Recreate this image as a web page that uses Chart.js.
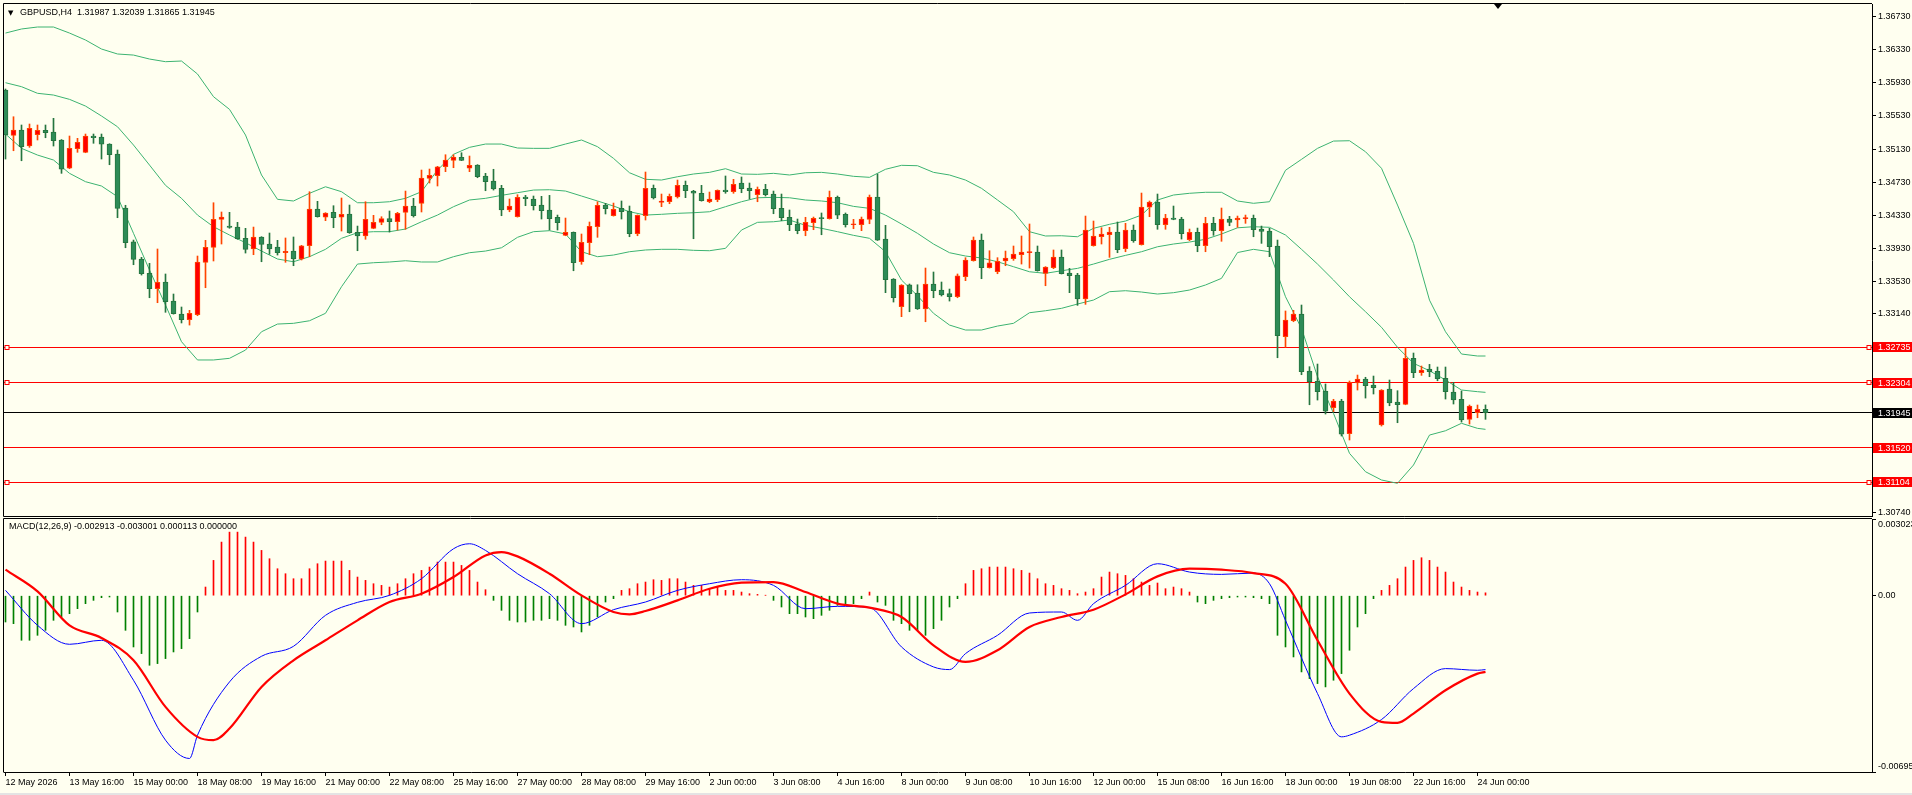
<!DOCTYPE html>
<html><head><meta charset="utf-8">
<script src="https://cdn.jsdelivr.net/npm/chart.js@4.4.1/dist/chart.umd.min.js"></script>
<style>
html,body{margin:0;padding:0;background:#fffff0;width:1912px;height:795px;overflow:hidden;}
#wrap{position:relative;width:1912px;height:795px;background:#fffff0;}
#c1{position:absolute;left:0;top:0;}
#c2{position:absolute;left:0;top:518px;}
#strip{position:absolute;left:0;top:793px;width:1912px;height:2px;background:#e4e4e4;}
</style></head><body>
<div id="wrap"><canvas id="c1" width="1912" height="518"></canvas><canvas id="c2" width="1912" height="275"></canvas><div id="strip"></div></div>
<script>
// ---------- data ----------
const barOpen = [1.35844,1.35296,1.35360,1.35167,1.35304,1.35357,1.35336,1.35240,1.34898,1.35134,
1.35091,1.35288,1.35276,1.35191,1.35070,1.34418,1.34011,1.33802,1.33629,1.33443,
1.33524,1.33294,1.33137,1.33068,1.33129,1.33762,1.33943,1.34281,1.34200,1.34188,
1.34052,1.33923,1.34068,1.33983,1.33947,1.33878,1.33898,1.33802,1.33962,1.34406,
1.34306,1.34366,1.34306,1.34346,1.34124,1.34080,1.34173,1.34245,1.34289,1.34252,
1.34366,1.34442,1.34475,1.34777,1.34808,1.34917,1.34994,1.35030,1.34898,1.34938,
1.34805,1.34744,1.34656,1.34394,1.34313,1.34551,1.34527,1.34454,1.34394,1.34306,
1.34088,1.34124,1.33769,1.33999,1.34192,1.34454,1.34325,1.34414,1.34378,1.34107,
1.34325,1.34656,1.34487,1.34494,1.34551,1.34692,1.34623,1.34596,1.34494,1.34518,
1.34635,1.34615,1.34720,1.34660,1.34579,1.34644,1.34587,1.34414,1.34306,1.34225,
1.34144,1.34240,1.34297,1.34289,1.34547,1.34342,1.34216,1.34216,1.34281,1.34551,
1.34043,1.33560,1.33226,1.33491,1.33391,1.33198,1.33500,1.33427,1.33383,1.33346,
1.33588,1.33781,1.34031,1.33697,1.33648,1.33778,1.33805,1.33854,1.33880,1.33886,
1.33629,1.33697,1.33826,1.33633,1.33608,1.33319,1.33962,1.34071,1.34095,1.34128,
1.33926,1.34152,1.33975,1.34427,1.34490,1.34216,1.34297,1.34285,1.34035,1.34124,
1.33962,1.34233,1.34144,1.34285,1.34273,1.34289,1.34294,1.34164,1.34140,1.33959,
1.32863,1.33056,1.33137,1.32449,1.32324,1.32207,1.32005,1.32086,1.31691,1.32304,
1.32352,1.32279,1.31796,1.32231,1.32074,1.32046,1.32602,1.32428,1.32473,1.32445,
1.32360,1.32195,1.32107,1.31865,1.31945,1.31987];
const barHigh = [1.35856,1.35521,1.35421,1.35433,1.35421,1.35421,1.35502,1.35245,1.35288,1.35260,
1.35312,1.35312,1.35312,1.35195,1.35119,1.34451,1.34031,1.33822,1.33750,1.33923,
1.33621,1.33379,1.33222,1.33182,1.33838,1.34028,1.34482,1.34370,1.34366,1.34245,
1.34173,1.34188,1.34072,1.34116,1.34028,1.34056,1.34068,1.33967,1.34615,1.34499,
1.34362,1.34446,1.34539,1.34454,1.34200,1.34494,1.34330,1.34313,1.34382,1.34366,
1.34623,1.34535,1.34877,1.34889,1.34922,1.35062,1.35062,1.35086,1.35046,1.34942,
1.34837,1.34886,1.34692,1.34527,1.34579,1.34571,1.34563,1.34559,1.34571,1.34333,
1.34297,1.34129,1.34104,1.34249,1.34494,1.34475,1.34478,1.34503,1.34442,1.34335,
1.34853,1.34696,1.34587,1.34587,1.34756,1.34744,1.34632,1.34692,1.34611,1.34637,
1.34805,1.34765,1.34793,1.34720,1.34672,1.34704,1.34623,1.34587,1.34394,1.34285,
1.34306,1.34309,1.34358,1.34623,1.34563,1.34358,1.34281,1.34309,1.34575,1.34829,
1.34209,1.33565,1.33493,1.33500,1.33491,1.33693,1.33645,1.33524,1.33439,1.33621,
1.33818,1.34068,1.34104,1.33902,1.33818,1.33898,1.33959,1.34080,1.34225,1.33959,
1.33710,1.33911,1.33911,1.33689,1.33629,1.34321,1.34261,1.34180,1.34185,1.34249,
1.34233,1.34213,1.34599,1.34503,1.34587,1.34342,1.34442,1.34306,1.34164,1.34176,
1.34306,1.34306,1.34418,1.34318,1.34321,1.34333,1.34333,1.34200,1.34173,1.34031,
1.33174,1.33182,1.33246,1.32501,1.32533,1.32292,1.32107,1.32107,1.32328,1.32400,
1.32373,1.32388,1.32224,1.32340,1.32211,1.32730,1.32666,1.32509,1.32529,1.32497,
1.32497,1.32312,1.32207,1.32038,1.32038,1.32039];
const barLow = [1.35010,1.35110,1.34989,1.35151,1.35240,1.35267,1.35167,1.34837,1.34893,1.35091,
1.35086,1.35200,1.35010,1.34941,1.34301,1.33938,1.33733,1.33608,1.33334,1.33274,
1.33158,1.33136,1.33029,1.33004,1.33117,1.33455,1.33778,1.33983,1.34173,1.34040,
1.33874,1.33854,1.33769,1.33859,1.33850,1.33762,1.33721,1.33790,1.33830,1.34308,
1.34265,1.34180,1.34140,1.34112,1.33902,1.34040,1.34168,1.34216,1.34128,1.34152,
1.34161,1.34309,1.34370,1.34720,1.34684,1.34857,1.34905,1.34990,1.34857,1.34784,
1.34627,1.34635,1.34325,1.34373,1.34308,1.34446,1.34394,1.34285,1.34152,1.34152,
1.34083,1.33660,1.33738,1.33854,1.34064,1.34346,1.34320,1.34285,1.34071,1.34083,
1.34273,1.34527,1.34434,1.34470,1.34539,1.34543,1.34047,1.34501,1.34482,1.34494,
1.34596,1.34596,1.34603,1.34527,1.34494,1.34563,1.34349,1.34265,1.34144,1.34107,
1.34083,1.34156,1.34095,1.34284,1.34289,1.34188,1.34168,1.34144,1.34228,1.34026,
1.33395,1.33282,1.33105,1.33165,1.33193,1.33044,1.33334,1.33355,1.33294,1.33334,
1.33540,1.33776,1.33564,1.33692,1.33624,1.33721,1.33786,1.33741,1.33693,1.33655,
1.33479,1.33685,1.33621,1.33395,1.33242,1.33254,1.33957,1.33983,1.33822,1.33878,
1.33890,1.34004,1.33970,1.34313,1.34161,1.34161,1.34276,1.34043,1.34023,1.33890,
1.33890,1.34088,1.34016,1.34204,1.34185,1.34233,1.34071,1.33991,1.33830,1.32609,
1.32735,1.33044,1.32404,1.32041,1.32098,1.31929,1.31957,1.31663,1.31615,1.32219,
1.32122,1.32171,1.31784,1.32029,1.31824,1.32041,1.32368,1.32396,1.32380,1.32331,
1.32110,1.32050,1.31832,1.31808,1.31884,1.31865];
const barClose = [1.35300,1.35360,1.35159,1.35381,1.35357,1.35328,1.35231,1.34886,1.35139,1.35212,
1.35288,1.35267,1.35188,1.35062,1.34414,1.33999,1.33798,1.33624,1.33443,1.33520,
1.33286,1.33141,1.33068,1.33146,1.33766,1.33943,1.34281,1.34309,1.34185,1.34047,
1.33919,1.34068,1.33979,1.33923,1.33878,1.33895,1.33802,1.33962,1.34406,1.34313,
1.34358,1.34301,1.34342,1.34120,1.34080,1.34281,1.34245,1.34289,1.34252,1.34354,
1.34442,1.34325,1.34780,1.34813,1.34917,1.34998,1.35034,1.34994,1.34934,1.34796,
1.34736,1.34648,1.34394,1.34442,1.34547,1.34530,1.34446,1.34385,1.34289,1.34240,
1.34124,1.33757,1.34004,1.34197,1.34451,1.34410,1.34402,1.34373,1.34107,1.34330,
1.34656,1.34539,1.34503,1.34559,1.34692,1.34627,1.34596,1.34506,1.34527,1.34632,
1.34615,1.34704,1.34651,1.34627,1.34644,1.34579,1.34410,1.34301,1.34216,1.34144,
1.34245,1.34294,1.34289,1.34547,1.34333,1.34216,1.34225,1.34285,1.34551,1.34031,
1.33552,1.33334,1.33488,1.33383,1.33198,1.33500,1.33419,1.33367,1.33346,1.33600,
1.33790,1.34031,1.33697,1.33757,1.33774,1.33814,1.33862,1.33886,1.33886,1.33660,
1.33705,1.33826,1.33624,1.33600,1.33319,1.34152,1.34080,1.34104,1.34128,1.33914,
1.34152,1.34023,1.34430,1.34490,1.34216,1.34297,1.34281,1.34107,1.34124,1.33962,
1.34233,1.34144,1.34285,1.34245,1.34297,1.34297,1.34156,1.34136,1.33950,1.32875,
1.33065,1.33137,1.32440,1.32319,1.32199,1.31965,1.32086,1.31687,1.32312,1.32352,
1.32271,1.32247,1.32219,1.32062,1.32041,1.32602,1.32428,1.32461,1.32440,1.32356,
1.32199,1.32098,1.31857,1.32026,1.31986,1.31945];

const bandBars = [0,2,4,6,8,10,12,14,16,18,20,22,24,26,28,30,32,34,36,38,40,42,44,46,48,50,52,54,56,58,
60,62,64,66,68,70,72,74,76,78,80,82,84,86,88,90,92,94,96,98,100,102,104,106,108,110,112,114,116,118,
120,122,124,126,128,130,132,134,136,138,140,142,144,146,148,150,152,154,156,158,160,162,164,166,168,170,
172,174,176,178,180,182,184,185];
const bandUpper = [1.36532,1.36581,1.36605,1.36605,1.36532,1.36448,1.36339,1.36279,1.36266,1.36218,
1.36186,1.36194,1.36037,1.35763,1.35610,1.35300,1.34817,1.34523,1.34503,1.34596,
1.34675,1.34615,1.34482,1.34482,1.34494,1.34535,1.34615,1.34877,1.35067,1.35151,
1.35191,1.35191,1.35143,1.35139,1.35139,1.35191,1.35240,1.35159,1.35018,1.34844,
1.34765,1.34756,1.34796,1.34829,1.34849,1.34893,1.34829,1.34825,1.34837,1.34817,
1.34844,1.34849,1.34829,1.34801,1.34789,1.34886,1.34934,1.34929,1.34849,1.34817,
1.34756,1.34656,1.34515,1.34373,1.34132,1.34080,1.34083,1.34071,1.34173,1.34221,
1.34261,1.34333,1.34515,1.34575,1.34596,1.34608,1.34608,1.34503,1.34475,1.34494,
1.34874,1.35006,1.35139,1.35227,1.35231,1.35098,1.34898,1.34454,1.33991,1.33305,
1.32923,1.32654,1.32630,1.32630];
const bandMiddle = [1.35932,1.35884,1.35804,1.35783,1.35731,1.35650,1.35530,1.35400,1.35179,1.34937,
1.34692,1.34535,1.34333,1.34192,1.34092,1.33999,1.33898,1.33802,1.33769,1.33830,
1.33919,1.34052,1.34120,1.34132,1.34132,1.34164,1.34252,1.34333,1.34434,1.34515,
1.34535,1.34571,1.34603,1.34635,1.34639,1.34623,1.34563,1.34503,1.34442,1.34373,
1.34333,1.34342,1.34354,1.34361,1.34373,1.34434,1.34494,1.34542,1.34547,1.34542,
1.34515,1.34503,1.34482,1.34438,1.34414,1.34333,1.34225,1.34112,1.33983,1.33878,
1.33838,1.33814,1.33769,1.33709,1.33648,1.33629,1.33660,1.33689,1.33741,1.33798,
1.33846,1.33890,1.33950,1.33983,1.34007,1.34040,1.34104,1.34179,1.34192,1.34185,
1.34092,1.33919,1.33741,1.33548,1.33346,1.33165,1.32977,1.32735,1.32542,1.32452,
1.32340,1.32219,1.32199,1.32191];
const bandLower = [1.35312,1.35139,1.35058,1.34998,1.34837,1.34736,1.34684,1.34555,1.34112,1.33669,
1.33246,1.32803,1.32582,1.32582,1.32602,1.32702,1.32923,1.33016,1.33025,1.33056,
1.33146,1.33467,1.33741,1.33757,1.33766,1.33781,1.33766,1.33766,1.33830,1.33878,
1.33898,1.33938,1.34064,1.34132,1.34144,1.34104,1.33890,1.33830,1.33850,1.33890,
1.33911,1.33919,1.33919,1.33907,1.33902,1.33931,1.34152,1.34245,1.34252,1.34273,
1.34209,1.34173,1.34132,1.34088,1.34052,1.33890,1.33548,1.33358,1.33146,1.33004,
1.32944,1.32944,1.32992,1.33025,1.33153,1.33177,1.33206,1.33258,1.33306,1.33407,
1.33419,1.33403,1.33379,1.33395,1.33427,1.33488,1.33568,1.33880,1.33919,1.33890,
1.33346,1.32964,1.32380,1.31937,1.31454,1.31232,1.31132,1.31092,1.31313,1.31675,
1.31727,1.31817,1.31756,1.31744];

const macdMainBars = [0,4,8,12,16,20,23,24,28,32,36,40,44,48,52,56,58,60,64,68,72,76,80,84,88,92,96,100,104,108,
112,116,118,120,124,128,132,134,136,140,144,148,152,156,158,160,164,167,168,172,176,180,184,185];
const macdMain = [0.000210,-0.001168,-0.001916,-0.001758,-0.003333,-0.005695,-0.006417,-0.005499,-0.003399,-0.002388,
-0.001995,-0.000774,-0.000262,0.000013,0.000669,0.001850,0.002047,0.001785,0.000866,0.000079,
-0.001102,-0.000551,-0.000249,0.000210,0.000472,0.000630,0.000407,-0.000512,-0.000420,-0.000472,
-0.002021,-0.002808,-0.002913,-0.002283,-0.001562,-0.000682,-0.000643,-0.000971,-0.000315,0.000407,
0.001260,0.000932,0.000840,0.000892,0.000472,-0.000971,-0.003858,-0.005564,-0.005499,-0.004882,
-0.003661,-0.002874,-0.002940,-0.002913];
const macdSignalBars = [0,4,8,12,16,20,24,26,28,32,36,40,44,48,52,56,60,62,64,68,72,76,78,80,84,88,92,96,100,104,
108,112,116,120,124,128,132,136,140,144,148,152,156,160,164,168,172,174,176,180,184,185];
const macdSignal = [0.001024,0.000171,-0.001168,-0.001667,-0.002546,-0.004383,-0.005564,-0.005695,-0.005236,-0.003596,
-0.002546,-0.001758,-0.000971,-0.000249,0.000079,0.000735,0.001588,0.001719,0.001549,0.000866,
0.000013,-0.000643,-0.000735,-0.000604,-0.000184,0.000276,0.000512,0.000538,0.000144,-0.000315,
-0.000472,-0.000840,-0.001955,-0.002611,-0.002152,-0.001234,-0.000840,-0.000551,0.000052,0.000761,
0.001063,0.001024,0.000892,0.000472,-0.001758,-0.003858,-0.004974,-0.005013,-0.004646,-0.003727,
-0.003071,-0.003001];
const macdHist = [-0.001037,-0.001102,-0.001758,-0.001758,-0.001562,-0.001365,-0.000971,-0.000840,-0.000709,-0.000512,
-0.000315,-0.000184,-0.000079,-0.000052,-0.000643,-0.001365,-0.002021,-0.002283,-0.002743,-0.002677,
-0.002480,-0.002218,-0.002087,-0.001693,-0.000643,0.000341,0.001391,0.002113,0.002506,0.002506,
0.002310,0.002113,0.001785,0.001457,0.001063,0.000866,0.000669,0.000669,0.001063,0.001260,
0.001365,0.001365,0.001365,0.000997,0.000735,0.000604,0.000472,0.000407,0.000341,0.000472,
0.000669,0.000866,0.000997,0.001129,0.001325,0.001325,0.001325,0.001194,0.000997,0.000538,
0.000236,-0.000184,-0.000577,-0.000971,-0.001037,-0.001037,-0.000971,-0.000971,-0.000905,-0.000971,
-0.001168,-0.001234,-0.001430,-0.001168,-0.000840,-0.000249,-0.000118,0.000210,0.000276,0.000472,
0.000538,0.000630,0.000604,0.000669,0.000669,0.000538,0.000407,0.000407,0.000276,0.000341,
0.000210,0.000210,0.000144,0.000079,0.000052,0.000013,-0.000184,-0.000446,-0.000709,-0.000709,
-0.000840,-0.000905,-0.000774,-0.000577,-0.000381,-0.000315,-0.000315,-0.000118,0.000144,-0.000249,
-0.000381,-0.000971,-0.001102,-0.001365,-0.001365,-0.001562,-0.001299,-0.000971,-0.000446,-0.000118,
0.000472,0.000997,0.001063,0.001129,0.001129,0.001129,0.001063,0.000997,0.000892,0.000669,
0.000472,0.000407,0.000276,0.000210,0.000079,0.000144,0.000276,0.000735,0.000932,0.000866,
0.000800,0.000669,0.000538,0.000407,0.000499,0.000276,0.000341,0.000276,0.000144,-0.000249,
-0.000315,-0.000184,-0.000118,-0.000079,-0.000052,-0.000052,-0.000079,-0.000118,-0.000315,-0.001562,
-0.002021,-0.002415,-0.003005,-0.003268,-0.003465,-0.003596,-0.003333,-0.003071,-0.002152,-0.001234,
-0.000709,-0.000118,0.000210,0.000407,0.000669,0.001129,0.001391,0.001496,0.001391,0.001129,
0.000932,0.000538,0.000341,0.000210,0.000144,0.000113];

const levelPrices = [1.32735, 1.32304, 1.31520, 1.31104];
const levelHasMarkers = [true, true, false, true];
const bidPrice = 1.31945;
const priceTicks = [1.36730,1.36330,1.35930,1.35530,1.35130,1.34730,1.34330,1.33930,1.33530,1.33140,1.30740];
const macdTicks = [0.003023, 0, -0.00695];
const macdTickLabels = ['0.003023', '0.00', '-0.00695'];
const xTickBars = [0,8,16,24,32,40,48,56,64,72,80,88,96,104,112,120,128,136,144,152,160,168,176,184];
const xTickLabels = ['12 May 2026','13 May 16:00','15 May 00:00','18 May 08:00','19 May 16:00','21 May 00:00',
'22 May 08:00','25 May 16:00','27 May 00:00','28 May 08:00','29 May 16:00','2 Jun 00:00','3 Jun 08:00',
'4 Jun 16:00','8 Jun 00:00','9 Jun 08:00','10 Jun 16:00','12 Jun 00:00','15 Jun 08:00','16 Jun 16:00',
'18 Jun 00:00','19 Jun 08:00','22 Jun 16:00','24 Jun 00:00'];
const chartTitle = 'GBPUSD,H4  1.31987 1.32039 1.31865 1.31945';
const macdTitle = 'MACD(12,26,9) -0.002913 -0.003001 0.000113 0.000000';
const chartShiftBar = 186.6;

// ---------- styling ----------
const FONT = 'Liberation Sans';
const UP_BODY = '#ff0000', UP_EDGE = '#ff4500';
const DN_BODY = '#2e8b57', DN_EDGE = '#25753f';
const BAND = '#3cb371', LEVEL = '#ff0000';
const X_MIN = -0.1875, X_MAX = 233.3125;

const idx = barOpen.map((_, i) => i);
const isUp = idx.map(i => barClose[i] >= barOpen[i]);
const pts = (xs, ys) => xs.map((x, k) => ({x: x, y: ys[k]}));

function frameLines(chart, withBottom) {
  const {ctx, chartArea: a} = chart;
  ctx.save();
  ctx.strokeStyle = '#000'; ctx.lineWidth = 1;
  ctx.beginPath();
  ctx.moveTo(a.left - 0.5, a.top - 0.5); ctx.lineTo(a.left - 0.5, a.bottom + 0.5);
  ctx.moveTo(a.left - 0.5, a.top - 0.5); ctx.lineTo(a.right, a.top - 0.5);
  if (withBottom) { ctx.moveTo(a.left - 0.5, a.bottom + 0.5); ctx.lineTo(a.right, a.bottom + 0.5); }
  ctx.stroke();
  ctx.restore();
}
const crisp = v => Math.round(v - 0.5) + 0.5;
const fixVertical = s => { s.width = 40; s.paddingTop = 0; s.paddingBottom = 0; };

const mainDecor = {
  id: 'mainDecor',
  beforeDatasetsDraw(chart) {
    const {ctx, chartArea: a, scales: {y}} = chart;
    ctx.save(); ctx.lineWidth = 1;
    levelPrices.forEach(p => {
      const py = crisp(y.getPixelForValue(p));
      ctx.strokeStyle = LEVEL; ctx.beginPath(); ctx.moveTo(a.left, py); ctx.lineTo(a.right, py); ctx.stroke();
    });
    const by = crisp(y.getPixelForValue(bidPrice));
    ctx.strokeStyle = '#000'; ctx.beginPath(); ctx.moveTo(a.left, by); ctx.lineTo(a.right, by); ctx.stroke();
    ctx.restore();
  },
  afterDatasetsDraw(chart) {
    const {ctx, chartArea: a, scales: {y}} = chart;
    ctx.save(); ctx.lineWidth = 1; ctx.strokeStyle = LEVEL; ctx.fillStyle = '#fffff0';
    levelPrices.forEach((p, k) => {
      if (!levelHasMarkers[k]) return;
      const py = crisp(y.getPixelForValue(p));
      [a.left + 3, a.right - 3].forEach(px => {
        ctx.fillRect(px - 2, py - 2, 4, 4);
        ctx.strokeRect(px - 2, py - 2, 4, 4);
      });
    });
    ctx.restore();
  },
  afterDraw(chart) {
    const {ctx, chartArea: a, scales: {x, y}} = chart;
    frameLines(chart, true);
    ctx.save();
    ctx.font = '9px "' + FONT + '"';
    ctx.textBaseline = 'middle'; ctx.textAlign = 'left';
    const box = (p, bg) => {
      const py = Math.round(y.getPixelForValue(p));
      ctx.fillStyle = bg; ctx.fillRect(a.right + 1, py - 5, chart.width - a.right - 1, 10);
      ctx.fillStyle = '#fff'; ctx.fillText(p.toFixed(5), a.right + 6, py + 0.5);
    };
    levelPrices.forEach(p => box(p, LEVEL));
    box(bidPrice, '#000');
    ctx.fillStyle = '#000';
    ctx.font = '7px "DejaVu Sans"'; ctx.fillText('\u25BC', 8, 13);
    ctx.font = '9px "' + FONT + '"'; ctx.fillText(chartTitle, 20, 13);
    const sx = Math.round(x.getPixelForValue(chartShiftBar));
    ctx.beginPath(); ctx.moveTo(sx - 4, a.top); ctx.lineTo(sx + 4, a.top); ctx.lineTo(sx, a.top + 5); ctx.closePath(); ctx.fill();
    ctx.restore();
  }
};

const macdDecor = {
  id: 'macdDecor',
  afterDraw(chart) {
    const {ctx, chartArea: a, scales: {y}} = chart;
    frameLines(chart, false);
    ctx.save();
    ctx.fillStyle = '#000'; ctx.font = '9px "' + FONT + '"'; ctx.textAlign = 'left';
    ctx.textBaseline = 'middle'; ctx.fillText(macdTitle, 9, 9);
    macdTicks.forEach((v, k) => {
      const py = y.getPixelForValue(v);
      let yy = py;
      if (py - a.top < 6) { ctx.textBaseline = 'top'; yy = a.top + 1; }
      else if (a.bottom - py < 6) { ctx.textBaseline = 'bottom'; yy = a.bottom - 1; }
      else ctx.textBaseline = 'middle';
      ctx.fillText(macdTickLabels[k], a.right + 6, yy);
    });
    ctx.restore();
  }
};

const commonOpts = {
  responsive: false, animation: false, devicePixelRatio: 1, events: [],
  plugins: {legend: {display: false}, tooltip: {enabled: false}}
};

new Chart(document.getElementById('c1'), {
  type: 'bar',
  data: {datasets: [
    {type: 'line', data: pts(bandBars, bandUpper), borderColor: BAND, borderWidth: 1, pointRadius: 0, order: 5},
    {type: 'line', data: pts(bandBars, bandMiddle), borderColor: BAND, borderWidth: 1, pointRadius: 0, order: 5},
    {type: 'line', data: pts(bandBars, bandLower), borderColor: BAND, borderWidth: 1, pointRadius: 0, order: 5},
    {type: 'bar', data: idx.map(i => ({x: i, y: [barLow[i], barHigh[i]]})),
     backgroundColor: idx.map(i => isUp[i] ? UP_EDGE : DN_EDGE), borderWidth: 0,
     barThickness: 1, grouped: false, order: 2},
    {type: 'bar', data: idx.map(i => ({x: i, y: [barOpen[i], barClose[i]]})),
     backgroundColor: idx.map(i => isUp[i] ? UP_BODY : DN_BODY),
     borderColor: idx.map(i => isUp[i] ? UP_EDGE : DN_EDGE), borderWidth: 1, borderSkipped: false,
     barThickness: 5, minBarLength: 1, grouped: false, order: 1}
  ]},
  options: Object.assign({}, commonOpts, {
    layout: {padding: {left: 4, top: 4, right: 0, bottom: 2}},
    scales: {
      x: {type: 'linear', min: X_MIN, max: X_MAX, offset: false, display: false, grid: {offset: false}},
      y: {type: 'linear', position: 'right', min: 1.30697, max: 1.36883,
          afterFit: fixVertical,
          afterBuildTicks(s) { s.ticks = priceTicks.map(v => ({value: v})); },
          ticks: {callback: v => Number(v).toFixed(5), color: '#000', font: {family: FONT, size: 9}, padding: 2, autoSkip: false},
          grid: {drawOnChartArea: false, drawTicks: true, tickLength: 4, color: '#000'},
          border: {display: true, color: '#000', width: 1}}
    }
  }),
  plugins: [mainDecor]
});

new Chart(document.getElementById('c2'), {
  type: 'bar',
  data: {datasets: [
    {type: 'bar', data: idx.map(i => ({x: i, y: macdHist[i]})),
     backgroundColor: macdHist.map(v => v >= 0 ? '#ff0000' : '#008000'), borderWidth: 0,
     barThickness: 1, grouped: false, order: 3},
    {type: 'line', data: pts(macdMainBars, macdMain), borderColor: '#0000ff', borderWidth: 1, pointRadius: 0,
     cubicInterpolationMode: 'monotone', order: 2},
    {type: 'line', data: pts(macdSignalBars, macdSignal), borderColor: '#ff0000', borderWidth: 2.2, pointRadius: 0,
     cubicInterpolationMode: 'monotone', order: 1}
  ]},
  options: Object.assign({}, commonOpts, {
    layout: {padding: {left: 4, top: 1, right: 0, bottom: 0}},
    scales: {
      x: {type: 'linear', min: X_MIN, max: X_MAX, offset: false,
          afterFit(s) { s.height = 21; s.paddingLeft = 0; s.paddingRight = 0; },
          afterBuildTicks(s) { s.ticks = xTickBars.map(v => ({value: v})); },
          ticks: {callback: (v, i) => xTickLabels[i], align: 'start', maxRotation: 0, minRotation: 0, autoSkip: false,
                  color: '#000', font: {family: FONT, size: 9}, padding: 1},
          grid: {drawOnChartArea: false, drawTicks: true, tickLength: 4, color: '#000', offset: false},
          border: {display: true, color: '#000', width: 1}},
      y: {type: 'linear', position: 'right', min: -0.00695, max: 0.003023,
          afterFit: fixVertical,
          afterBuildTicks(s) { s.ticks = macdTicks.map(v => ({value: v})); },
          ticks: {callback: () => '', autoSkip: false},
          grid: {drawOnChartArea: false, drawTicks: true, tickLength: 4, color: '#000'},
          border: {display: true, color: '#000', width: 1}}
    }
  }),
  plugins: [macdDecor]
});
</script>
</body></html>
